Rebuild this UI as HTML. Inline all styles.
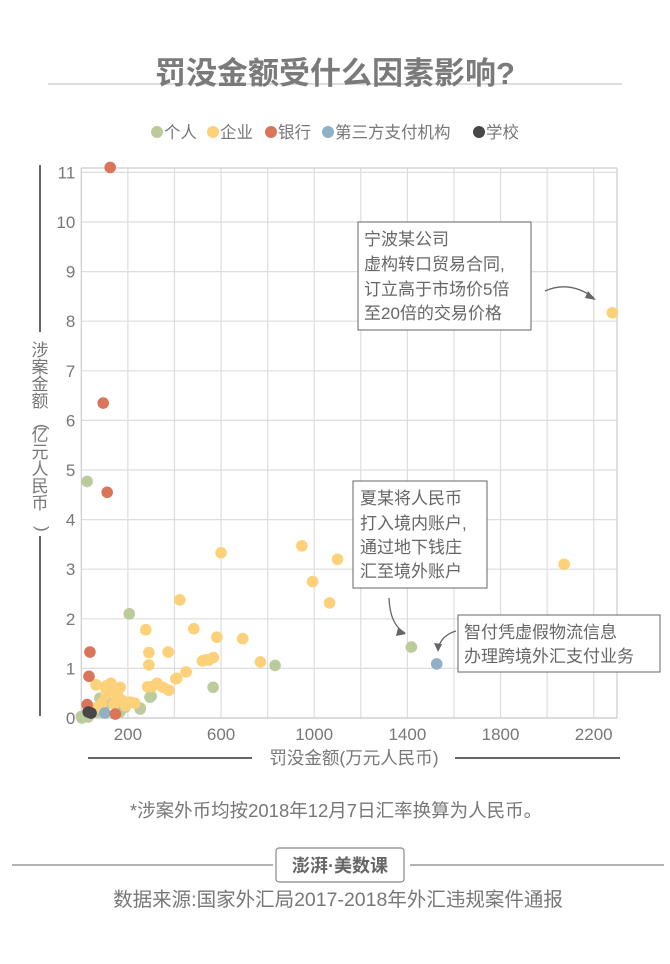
<!DOCTYPE html>
<html><head><meta charset="utf-8"><style>
html,body{margin:0;padding:0;background:#fff;}
body{width:670px;height:959px;overflow:hidden;font-family:"Liberation Sans","Noto Sans CJK SC",sans-serif;}
text{font-family:"Liberation Sans","Noto Sans CJK SC",sans-serif;}
</style></head><body>
<svg id="chart" width="670" height="959" viewBox="0 0 670 959">
<line x1="48" y1="84" x2="622" y2="84" stroke="#ddd" stroke-width="2"/>
<text x="335" y="84" text-anchor="middle" font-size="31" font-weight="bold" fill="#7a7a7a">罚没金额受什么因素影响?</text>
<g id="legend"></g>
<g id="grid"></g>
<g id="points"></g>
<line x1="40" y1="165" x2="40" y2="332" stroke="#666" stroke-width="2"/>
<line x1="40" y1="536" x2="40" y2="716" stroke="#666" stroke-width="2"/>
<text id="ytitle" text-anchor="middle" font-size="17" fill="#777"></text>
<line x1="88" y1="758" x2="252" y2="758" stroke="#666" stroke-width="2"/>
<line x1="455" y1="758" x2="620" y2="758" stroke="#666" stroke-width="2"/>
<text x="354" y="764" text-anchor="middle" font-size="17.5" fill="#777">罚没金额(万元人民币)</text>
<g>
<rect x="358" y="222" width="173" height="108" fill="#fff" stroke="#666" stroke-width="1"/>
<text font-size="17" fill="#666"><tspan x="364" y="245">宁波某公司</tspan><tspan x="364" y="270">虚构转口贸易合同,</tspan><tspan x="364" y="295">订立高于市场价5倍</tspan><tspan x="364" y="319">至20倍的交易价格</tspan></text>
<path d="M545 291 Q570 280 594 298" fill="none" stroke="#666" stroke-width="1.3"/>
<path d="M588 291 L596 300 L585 298 Z" fill="#666"/>
</g>
<g>
<rect x="353" y="481" width="134" height="107" fill="#fff" stroke="#666" stroke-width="1"/>
<text font-size="17" fill="#666"><tspan x="360" y="504">夏某将人民币</tspan><tspan x="360" y="529">打入境内账户,</tspan><tspan x="360" y="553">通过地下钱庄</tspan><tspan x="360" y="577">汇至境外账户</tspan></text>
<path d="M389 598 Q390 625 405 633" fill="none" stroke="#666" stroke-width="1.3"/>
<path d="M398 628 L406 634 L396 636 Z" fill="#666"/>
</g>
<g>
<rect x="458" y="615" width="202" height="57" fill="#fff" stroke="#666" stroke-width="1"/>
<text font-size="17" fill="#666"><tspan x="464" y="638">智付凭虚假物流信息</tspan><tspan x="464" y="662">办理跨境外汇支付业务</tspan></text>
<path d="M456 631 Q442 635 438 648" fill="none" stroke="#666" stroke-width="1.3"/>
<path d="M434 643 L438 652 L442 644 Z" fill="#666"/>
</g>
<text x="336" y="817" text-anchor="middle" font-size="18.5" fill="#777">*涉案外币均按2018年12月7日汇率换算为人民币。</text>
<line x1="12" y1="865" x2="273" y2="865" stroke="#999" stroke-width="1.5"/>
<line x1="410" y1="865" x2="664" y2="865" stroke="#999" stroke-width="1.5"/>
<rect x="276" y="848" width="128" height="34" rx="3" fill="#fff" stroke="#888" stroke-width="1.2"/>
<text x="340" y="872" text-anchor="middle" font-size="18" font-weight="bold" fill="#666">澎湃·美数课</text>
<text x="338" y="906" text-anchor="middle" font-size="19.5" fill="#777">数据来源:国家外汇局2017-2018年外汇违规案件通报</text>
</svg>
<script>
const categories = ["个人","企业","银行","第三方支付机构","学校"];
const colors = ["#bccb9c","#fcd179","#d9765a","#8fb0c6","#474747"];
const xTicks = [200,600,1000,1400,1800,2200];
const yTicks = [0,1,2,3,4,5,6,7,8,9,10,11];
const personX = [25,206,1417,832,566,300,253,0,80,29,67,188,253,295,3,166,120];
const personY = [4.77,2.1,1.43,1.06,0.62,0.44,0.2,0.03,0.4,0.02,0.12,0.22,0.18,0.42,0,0.12,0.3];
const companyX = [2280,2073,947,600,1100,993,1066,423,277,483,582,693,373,290,290,769,520,535,548,567,450,410,63,127,106,149,285,302,325,350,376,406,106,154,175,210,88,108,167,60,140,190,230];
const companyY = [8.17,3.1,3.47,3.33,3.2,2.75,2.32,2.38,1.78,1.8,1.63,1.6,1.33,1.32,1.07,1.13,1.15,1.17,1.17,1.22,0.93,0.8,0.67,0.7,0.6,0.54,0.63,0.63,0.7,0.62,0.56,0.79,0.47,0.47,0.36,0.32,0.3,0.65,0.62,0.2,0.28,0.25,0.3];
const bankX = [124,94,111,37,33,25,29,146];
const bankY = [11.1,6.35,4.55,1.33,0.84,0.27,0.13,0.08];
const payX = [1526,101];
const payY = [1.09,0.1];
const schoolX = [42,30];
const schoolY = [0.1,0.12];

const L=81.3, R=617, T=168, B=718;
const xScale = v => L + v*(R-L)/2300;
const yScale = v => B - v*49.6;
const NS="http://www.w3.org/2000/svg";
const yt=document.getElementById('ytitle');
const ychars=["涉","案","金","额","(","亿","元","人","民","币",")"];
ychars.forEach((ch,i)=>{
  const ts=document.createElementNS(NS,'tspan');
  ts.setAttribute('x',40);ts.setAttribute('y',356+i*17);ts.textContent=ch;
  if(ch==="("||ch===")"){ts.setAttribute('rotate','90');}
  yt.appendChild(ts);
});
const grid=document.getElementById('grid');
for(let v=200; v<=2200; v+=200){
  const l=document.createElementNS(NS,'line');
  l.setAttribute('x1',xScale(v));l.setAttribute('x2',xScale(v));l.setAttribute('y1',T);l.setAttribute('y2',B);
  l.setAttribute('stroke','#ddd');l.setAttribute('stroke-width','1.2');
  
  
  grid.appendChild(l);
}
yTicks.forEach(v=>{
  const l=document.createElementNS(NS,'line');
  l.setAttribute('x1',L);l.setAttribute('x2',R);l.setAttribute('y1',yScale(v));l.setAttribute('y2',yScale(v));
  l.setAttribute('stroke','#ddd');l.setAttribute('stroke-width','1.2');
  
  
  grid.appendChild(l);
  const t=document.createElementNS(NS,'text');
  t.setAttribute('x',L-6);t.setAttribute('y',yScale(v)+6);t.setAttribute('text-anchor','end');
  t.setAttribute('font-size','17');t.setAttribute('fill','#777');t.textContent=v;
  
  
  grid.appendChild(t);
});
[[L,T,L,B],[R,T,R,B],[L,T,R,T],[L,B,R,B]].forEach(c=>{
  const l=document.createElementNS(NS,'line');
  l.setAttribute('x1',c[0]);l.setAttribute('y1',c[1]);l.setAttribute('x2',c[2]);l.setAttribute('y2',c[3]);
  l.setAttribute('stroke','#ccc');l.setAttribute('stroke-width','1.2');
  
  
  grid.appendChild(l);
});
xTicks.forEach(v=>{
  const t=document.createElementNS(NS,'text');
  t.setAttribute('x',xScale(v));t.setAttribute('y',B+22);t.setAttribute('text-anchor','middle');
  t.setAttribute('font-size','17');t.setAttribute('fill','#777');t.textContent=v;
  
  
  grid.appendChild(t);
});
const pts=document.getElementById('points');
const series=[[personX,personY,0,'person-point'],[companyX,companyY,1,'company-point'],[payX,payY,3,'payment-point'],[bankX,bankY,2,'bank-point'],[schoolX,schoolY,4,'school-point']];
series.forEach(s=>{
  s[0].forEach((x,i)=>{
    const c=document.createElementNS(NS,'circle');
    c.setAttribute('cx',xScale(x));c.setAttribute('cy',yScale(s[1][i]));c.setAttribute('r','5.8');
    c.setAttribute('fill',colors[s[2]]);
    
    
    pts.appendChild(c);
  });
});
const lg=document.getElementById('legend');
const legendLeft=[151,207,265,322,473];
categories.forEach((name,i)=>{
  const lx=legendLeft[i];
  const c=document.createElementNS(NS,'circle');
  c.setAttribute('cx',lx+6);c.setAttribute('cy',132);c.setAttribute('r','6');c.setAttribute('fill',colors[i]);
  
  
  lg.appendChild(c);
  const t=document.createElementNS(NS,'text');
  t.setAttribute('x',lx+13);t.setAttribute('y',138);t.setAttribute('font-size','16.5');t.setAttribute('fill','#777');
  t.textContent=name;
  
  
  lg.appendChild(t);
});
</script>
</body></html>
